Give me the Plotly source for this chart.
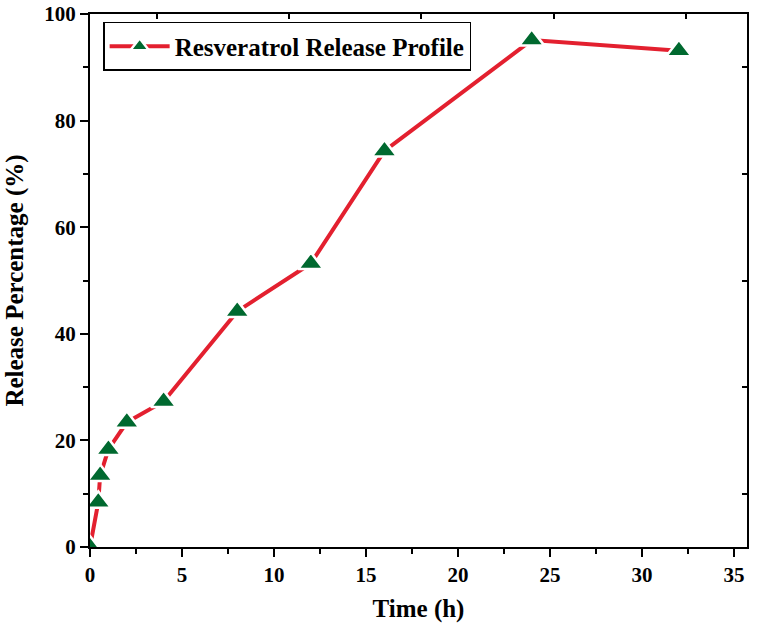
import plotly.graph_objects as go

time_h = [0, 0.45, 0.55, 1, 2, 4, 8, 12, 16, 24, 32]
release_pct = [0, 8.4, 13.4, 18.3, 23.4, 27.3, 44.2, 53.2, 74.3, 95.1, 93.1]
series_name = "Resveratrol Release Profile"

top_tick_vals = [3.62, 10.82, 18.01, 25.2, 32.4]
right_tick_vals = [10, 30, 50, 70, 90]

FONT = "Liberation Serif"
RED = "#E3202F"
GREEN = "#00692F"

fig = go.Figure()
fig.add_trace(go.Scatter(
    x=time_h, y=release_pct, mode="lines+markers", name="<b>" + series_name + "</b>",
    line=dict(color=RED, width=4),
    marker=dict(symbol="triangle-up", size=22, color=GREEN,
                line=dict(color="white", width=2.5)),
))
fig.add_trace(go.Scatter(x=[0], y=[0], xaxis="x2", yaxis="y2", mode="markers",
                         marker=dict(opacity=0), showlegend=False, hoverinfo="skip"))

XR = [0, 35.7]
YR = [0, 100]

fig.update_layout(
    width=760, height=634,
    margin=dict(l=90, r=13, t=14, b=87),
    paper_bgcolor="white", plot_bgcolor="white",
    font=dict(family=FONT, color="black"),
    showlegend=True,
    legend=dict(x=0.02, y=0.985, xanchor="left", yanchor="top",
                bordercolor="black", borderwidth=1.5, bgcolor="white",
                font=dict(family=FONT, size=25, color="black"),
                itemwidth=60),
    xaxis=dict(range=XR, tickmode="array", tickvals=[0, 5, 10, 15, 20, 25, 30, 35],
               automargin=False, ticklabeloverflow="allow",
               ticks="outside", ticklen=8, tickwidth=2, tickcolor="black",
               minor=dict(tickvals=[2.5, 7.5, 12.5, 17.5, 22.5, 27.5, 32.5],
                          ticks="outside", ticklen=5, tickwidth=2, tickcolor="black"),
               showline=True, linecolor="black", linewidth=2, showgrid=False, zeroline=False,
               tickfont=dict(family=FONT, size=21, color="black", weight="bold"),
               title=dict(text="<b>Time (h)</b>", font=dict(family=FONT, size=25, color="black"),
                          standoff=13)),
    yaxis=dict(range=YR, tickmode="array", tickvals=[0, 20, 40, 60, 80, 100],
               automargin=False, ticklabeloverflow="allow",
               ticks="outside", ticklen=8, tickwidth=2, tickcolor="black",
               minor=dict(tickvals=[10, 30, 50, 70, 90],
                          ticks="outside", ticklen=5, tickwidth=2, tickcolor="black"),
               showline=True, linecolor="black", linewidth=2, showgrid=False, zeroline=False,
               tickfont=dict(family=FONT, size=21, color="black", weight="bold"),
               title=dict(text="<b>Release Percentage (%)</b>",
                          font=dict(family=FONT, size=25, color="black"), standoff=14)),
    xaxis2=dict(range=XR, overlaying="x", side="top", anchor="y", automargin=False,
                tickmode="array", tickvals=top_tick_vals, ticks="inside", ticklen=5,
                tickwidth=2, tickcolor="black", showticklabels=False,
                showline=True, linecolor="black", linewidth=2, showgrid=False, zeroline=False),
    yaxis2=dict(range=YR, overlaying="y", side="right", anchor="x", automargin=False,
                tickmode="array", tickvals=right_tick_vals, ticks="inside", ticklen=5,
                tickwidth=2, tickcolor="black", showticklabels=False,
                showline=True, linecolor="black", linewidth=2, showgrid=False, zeroline=False),
)

fig.write_html("out.html", config={"displayModeBar": False},
               post_script="document.body.style.margin='0';")
